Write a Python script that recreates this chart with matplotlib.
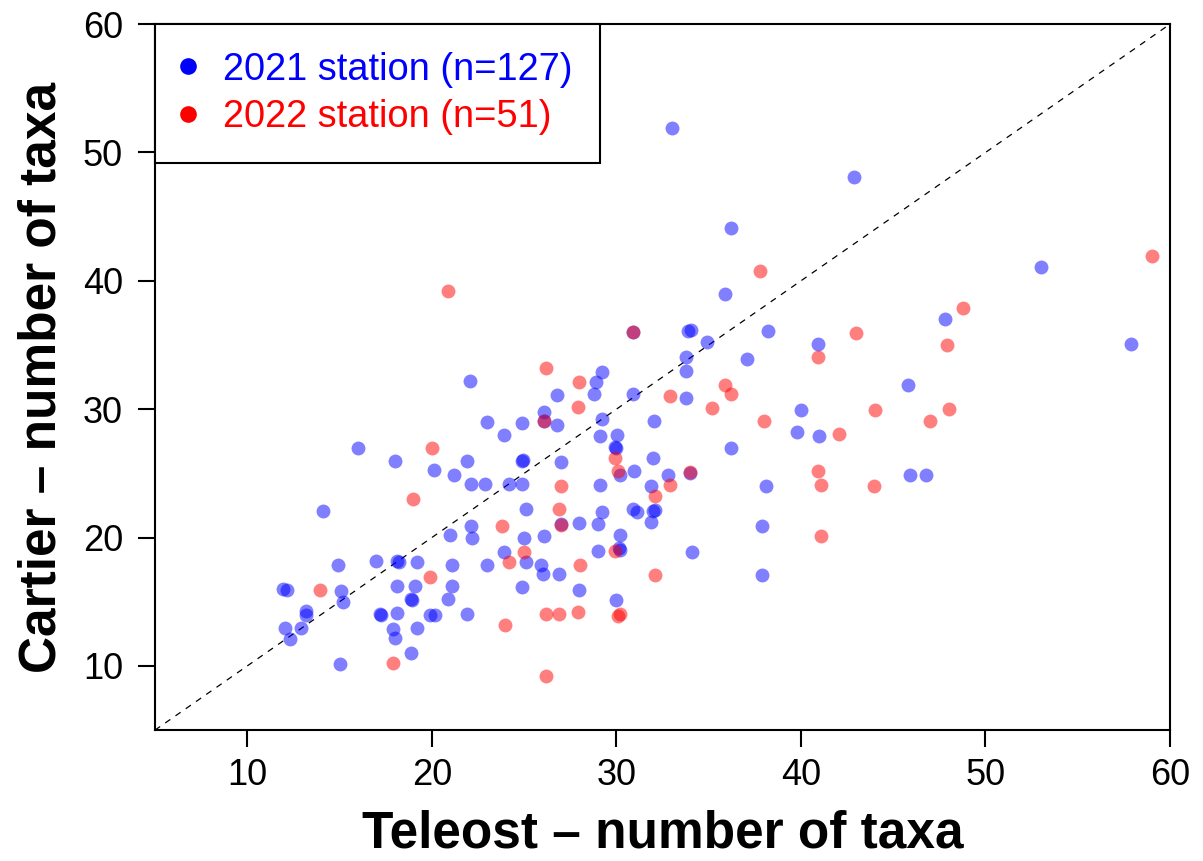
import matplotlib
matplotlib.use("Agg")
import matplotlib.pyplot as plt
from matplotlib.lines import Line2D

plt.rcParams["font.family"] = ["Liberation Sans", "DejaVu Sans"]

# 2021 stations (blue): teleost vs cartier number of taxa (jittered in source)
teleost_2021 = [
    16.0, 18.0, 20.1, 21.2, 21.9, 22.1, 14.1, 22.1, 21.0, 22.2,
    14.9, 17.0, 18.1, 18.2, 19.2, 21.1, 11.95, 12.15, 15.1, 15.2,
    18.1, 19.1, 18.9, 18.95, 21.1, 20.9, 13.2, 13.2, 17.2, 17.25,
    18.1, 19.9, 20.2, 21.9, 12.05, 12.9, 12.3, 17.9, 18.0, 19.2,
    18.9, 15.0, 22.05, 29.2, 28.9, 28.8, 26.8, 26.1, 26.1, 26.8,
    23.0, 23.9, 24.9, 30.9, 33.9, 34.05, 34.9, 33.8, 33.8, 33.8,
    30.9, 29.2, 32.05, 29.1, 30.05, 29.9, 30.0, 30.2, 30.97, 32.0,
    32.8, 34.0, 31.9, 30.9, 31.1, 32.0, 32.1, 31.9, 34.1, 30.0,
    30.15, 30.2, 30.2, 29.0, 29.2, 29.0, 29.1, 27.0, 27.0, 27.95,
    24.9, 24.95, 22.9, 24.2, 24.9, 25.1, 25.0, 26.1, 23.9, 25.1,
    23.0, 25.9, 26.05, 26.9, 24.9, 27.95, 35.9, 38.2, 40.9, 37.1,
    45.8, 40.0, 39.8, 41.0, 36.2, 38.1, 45.9, 46.8, 37.9, 37.9,
    42.9, 53.0, 47.8, 57.9, 33.0, 36.2,
]
cartier_2021 = [
    27.0, 25.95, 25.25, 24.9, 25.95, 24.2, 22.06, 20.9, 20.2, 20.0,
    17.9, 18.2, 18.2, 18.1, 18.1, 17.9, 16.0, 15.95, 15.85, 15.0,
    16.2, 16.2, 15.2, 15.15, 16.2, 15.2, 14.3, 14.0, 14.05, 14.0,
    14.1, 14.0, 13.95, 14.05, 12.95, 12.95, 12.1, 12.9, 12.2, 12.95,
    11.0, 10.15, 32.2, 32.9, 32.1, 31.2, 31.1, 29.8, 29.1, 28.8,
    29.0, 28.0, 28.9, 36.0, 36.1, 36.2, 35.2, 34.1, 33.0, 30.9,
    31.2, 29.2, 29.1, 27.9, 28.0, 27.05, 26.95, 24.9, 25.2, 26.2,
    24.9, 25.0, 24.0, 22.2, 22.0, 22.1, 22.15, 21.2, 18.9, 15.1,
    19.2, 19.05, 20.2, 18.95, 22.0, 21.05, 24.1, 25.9, 21.05, 21.1,
    26.0, 26.05, 24.2, 24.2, 24.2, 22.2, 20.0, 20.1, 18.9, 18.1,
    17.9, 17.85, 17.2, 17.2, 16.15, 15.9, 39.0, 36.1, 35.1, 33.9,
    31.9, 29.9, 28.2, 27.9, 27.0, 24.0, 24.9, 24.9, 20.9, 17.1,
    48.1, 41.05, 37.0, 35.05, 51.9, 44.15,
]

# 2022 stations (red)
teleost_2022 = [
    26.2, 28.0, 27.9, 26.1, 30.9, 32.9, 29.9, 30.1, 32.9, 34.0,
    32.1, 32.1, 30.2, 30.1, 29.9, 27.0, 26.9, 27.0, 23.8, 25.0,
    24.2, 28.05, 23.95, 26.2, 26.9, 27.9, 26.2, 20.0, 19.0, 19.9,
    13.95, 17.9, 37.8, 43.0, 40.9, 35.9, 36.2, 35.2, 44.0, 47.0,
    38.0, 42.05, 40.9, 41.1, 43.95, 41.1, 59.0, 48.8, 47.9, 48.0,
    20.9,
]
cartier_2022 = [
    33.2, 32.1, 30.2, 29.05, 36.0, 31.0, 26.2, 25.2, 24.1, 25.1,
    23.2, 17.1, 14.05, 13.9, 18.95, 24.0, 22.2, 21.0, 20.9, 18.9,
    18.1, 17.9, 13.2, 14.05, 14.05, 14.2, 9.2, 27.0, 23.0, 16.9,
    15.9, 10.2, 40.8, 35.9, 34.05, 31.9, 31.2, 30.1, 29.9, 29.1,
    29.05, 28.1, 25.2, 24.1, 24.0, 20.1, 41.9, 37.9, 35.0, 30.0,
    39.2,
]

labels = ["2021 station (n=127)", "2022 station (n=51)"]
colors = ["blue", "red"]
ticks = [10, 20, 30, 40, 50, 60]
lims = (5, 60)

fig = plt.figure(figsize=(12.03, 8.61), dpi=100)
ax = fig.add_axes([0.1288, 0.152, 0.8438, 0.820])

# 1:1 reference line
ax.plot(lims, lims, color="black", lw=0.9, linestyle=(0, (5, 5)), zorder=1)
ax.scatter(teleost_2021, cartier_2021, s=100, color="blue", alpha=0.5,
           linewidths=0, zorder=2)
ax.scatter(teleost_2022, cartier_2022, s=100, color="red", alpha=0.5,
           linewidths=0, zorder=3)

ax.set_xlim(*lims)
ax.set_ylim(*lims)
ax.set_xticks(ticks)
ax.set_yticks(ticks)
for s in ax.spines.values():
    s.set_linewidth(1.5)
ax.tick_params(axis="both", labelsize=26, length=12, width=1.5)
ax.tick_params(axis="x", pad=8)
ax.tick_params(axis="y", pad=11)

ax.set_xlabel("Teleost \u2013 number of taxa", fontsize=37, fontweight="bold",
              labelpad=12)
ax.set_ylabel("Cartier \u2013 number of taxa", fontsize=37, fontweight="bold",
              labelpad=12)

handles = [Line2D([], [], marker="o", color=c, linestyle="none",
                  markersize=12, markeredgewidth=0) for c in colors]
leg = ax.legend(handles, labels, loc="upper left", bbox_to_anchor=(0, 1),
                borderaxespad=0, fontsize=27.4, labelcolor=colors,
                fancybox=False, edgecolor="black", framealpha=1,
                borderpad=0.72, handlelength=0.3, handletextpad=0.78,
                labelspacing=0.31)
leg.get_frame().set_linewidth(1.5)

fig.savefig("out.png", dpi=100)
